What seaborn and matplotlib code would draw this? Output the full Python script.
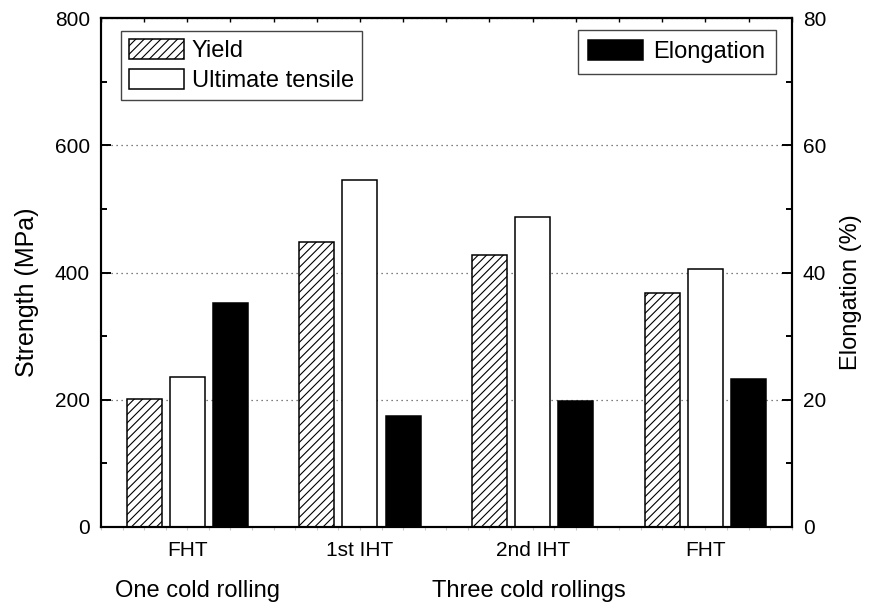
import matplotlib
matplotlib.use("Agg")
import matplotlib.pyplot as plt
from matplotlib.ticker import MultipleLocator
import seaborn as sns
import pandas as pd

# ---- data ----
conditions = ["FHT_one", "1st IHT", "2nd IHT", "FHT_three"]
tick_labels = ["FHT", "1st IHT", "2nd IHT", "FHT"]
yield_mpa = [201, 448, 428, 368]
uts_mpa = [236, 546, 487, 406]
elongation_pct = [35.2, 17.4, 19.8, 23.3]
series = ["Yield", "Ultimate tensile", "Elongation"]
group_labels = ["One cold rolling", "Three cold rollings"]

sns.set_style("ticks")
plt.rcParams["font.family"] = ["Liberation Sans", "DejaVu Sans"]
plt.rcParams["hatch.linewidth"] = 0.8
for k in ("text.color", "axes.labelcolor", "xtick.color", "ytick.color",
          "xtick.labelcolor", "ytick.labelcolor"):
    plt.rcParams[k] = "black"

strength_df = pd.DataFrame({
    "condition": conditions * 2,
    "series": [series[0]] * 4 + [series[1]] * 4,
    "value": yield_mpa + uts_mpa,
})
elong_df = pd.DataFrame({
    "condition": conditions,
    "series": [series[2]] * 4,
    "value": elongation_pct,
})
palette = {"Yield": "white", "Ultimate tensile": "white", "Elongation": "black"}

fig = plt.figure(figsize=(8.7, 6.04), dpi=100)
ax = fig.add_axes([0.116, 0.1275, 0.794, 0.8425])
ax2 = ax.twinx()

sns.barplot(data=strength_df, x="condition", y="value", hue="series",
            order=conditions, hue_order=series, palette=palette, dodge=True,
            width=0.75, gap=0.19, edgecolor="black", linewidth=1.1,
            legend=False, ax=ax, errorbar=None)
sns.barplot(data=elong_df, x="condition", y="value", hue="series",
            order=conditions, hue_order=series, palette=palette, dodge=True,
            width=0.75, gap=0.19, edgecolor="black", linewidth=1.1,
            legend=False, ax=ax2, errorbar=None)

strength_conts = [c for c in ax.containers if len(c) > 0]
elong_conts = [c for c in ax2.containers if len(c) > 0]

# hatch on yield bars
for p in strength_conts[0]:
    p.set_hatch("////")

ax.set_xlim(-0.5, 3.5)
ax.set_ylim(0, 800)
ax2.set_ylim(0, 80)

ax.yaxis.set_major_locator(MultipleLocator(200))
ax.yaxis.set_minor_locator(MultipleLocator(100))
ax2.yaxis.set_major_locator(MultipleLocator(20))
ax2.yaxis.set_minor_locator(MultipleLocator(10))

ax.set_xticks(range(len(conditions)))
ax.set_xticklabels(tick_labels)
ax.xaxis.set_minor_locator(MultipleLocator(0.125))

ax.set_xlabel("")
ax.set_ylabel("Strength (MPa)", fontsize=18, labelpad=11)
ax2.set_ylabel("Elongation (%)", fontsize=17, labelpad=10)
ax.yaxis.label.set_y(0.462)
ax2.yaxis.label.set_y(0.462)
ax2.set_xlabel("")

ax.tick_params(axis="y", which="major", direction="in", length=7, width=1.4,
               labelsize=15, pad=8, left=True, right=False)
ax.tick_params(axis="y", which="minor", direction="in", length=4, width=1.4,
               left=True, right=False)
ax2.tick_params(axis="y", which="major", direction="in", length=7, width=1.4,
                labelsize=15, pad=8, left=False, right=True)
ax2.tick_params(axis="y", which="minor", direction="in", length=4, width=1.4,
                left=False, right=True)
ax.tick_params(axis="x", which="both", direction="out", length=2, width=0.8,
               color="#c8c8c8", labelsize=15, pad=8, top=False)

# small inward ticks on top
top = ax.secondary_xaxis("top")
top.xaxis.set_major_locator(MultipleLocator(0.25))
top.tick_params(axis="x", direction="in", length=3, width=1.0, labeltop=False,
                color="black")
top.spines["top"].set_linewidth(1.5)

for a in (ax, ax2):
    for s in a.spines.values():
        s.set_linewidth(1.5)
        s.set_color("black")

ax.yaxis.grid(True, which="major", linestyle=(0, (1, 3)), color="#555555", linewidth=0.9)
ax.set_axisbelow(True)

# legends
leg1 = ax.legend(handles=[strength_conts[0][0], strength_conts[1][0]],
                 labels=series[:2], loc="upper left", bbox_to_anchor=(0.029, 0.975),
                 fontsize=17, frameon=True, fancybox=False, edgecolor="#444444",
                 framealpha=1, handlelength=2.3, handleheight=0.9,
                 handletextpad=0.35, labelspacing=0.3, borderpad=0.35,
                 borderaxespad=0)
leg1.get_frame().set_linewidth(1.0)
leg2 = ax2.legend(handles=[elong_conts[0][0]], labels=[series[2]],
                  loc="upper right", bbox_to_anchor=(0.977, 0.977),
                  fontsize=17, frameon=True, fancybox=False, edgecolor="#444444",
                  framealpha=1, handlelength=2.3, handleheight=0.9,
                  handletextpad=0.45, borderpad=0.45, borderaxespad=0)
leg2.get_frame().set_linewidth(1.0)

fig.text(198 / 870, 1 - 591 / 604, group_labels[0], fontsize=17, ha="center", va="center")
fig.text(529 / 870, 1 - 591 / 604, group_labels[1], fontsize=17, ha="center", va="center")

fig.savefig("out.png", dpi=100)
